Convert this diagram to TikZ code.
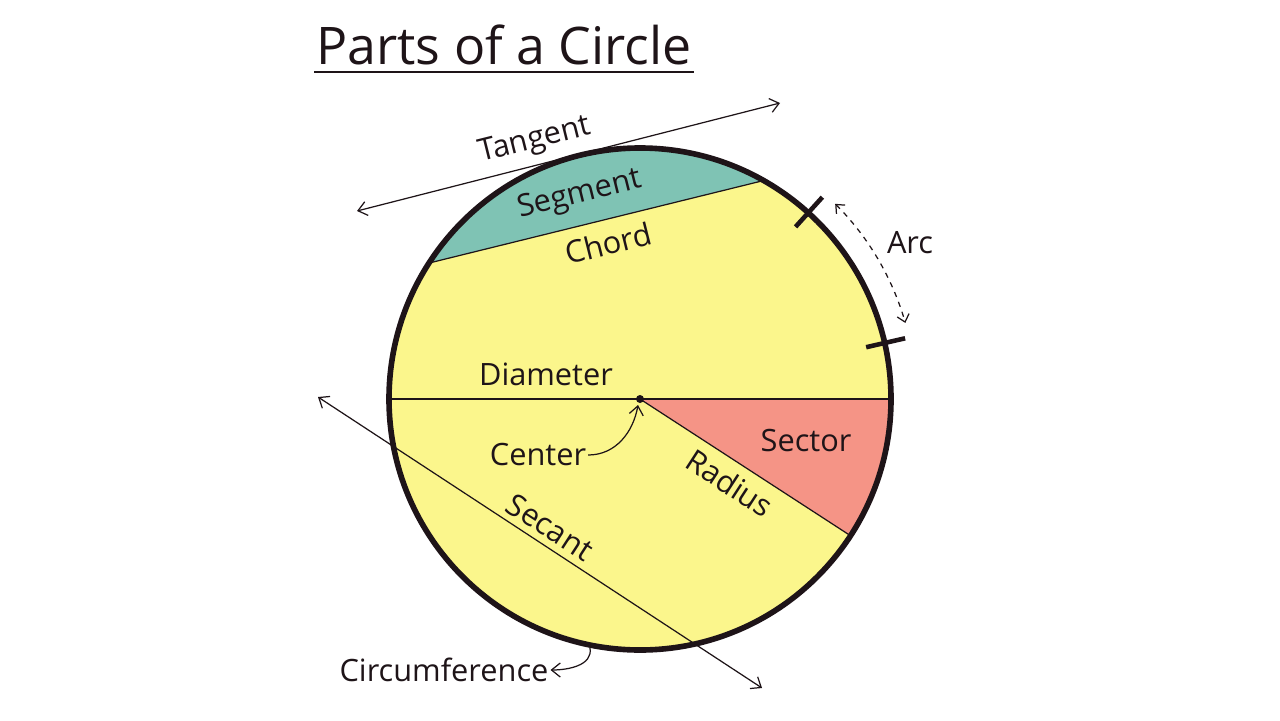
\documentclass[tikz,border=0pt]{standalone}
\usepackage{fontspec}
\setmainfont{Open Sans}
\definecolor{circyellow}{HTML}{FBF68C}
\definecolor{segteal}{HTML}{7FC3B4}
\definecolor{secsalmon}{HTML}{F59486}
\definecolor{inkdark}{HTML}{1E1418}
\usetikzlibrary{arrows.meta, positioning, calc}

\begin{document}
\begin{tikzpicture}[x=0.02cm, y=-0.02cm,
    lbl/.style={font=\fontsize{17.5}{20}\selectfont, text=inkdark, inner sep=1pt},
    line/.style={draw=inkdark, line width=0.7pt},
    tip/.style={-{Straight Barb[length=5pt, width=8pt]}}]
    \useasboundingbox[fill=white] (0,0) rectangle (1280,720);
    % Circle body
    \coordinate (O) at (640,399);
    \fill[circyellow] (O) circle[radius=251];
    % Segment
    \fill[segteal] ($(O)+(60.5:251 and -251)$) arc[start angle=-60.5, end angle=-147.2, radius=251] -- cycle;
    % Sector
    \fill[secsalmon] (O) -- ($(O)+(251,0)$) arc[start angle=0, end angle=33, radius=251] -- cycle;
    % Chord, diameter, radius
    \coordinate (ch1) at ($(O)+(-147.2:251)$);
    \coordinate (ch2) at ($(O)+(-60.5:251)$);
    \draw[line] (ch1) -- (ch2);
    \draw[line] ($(O)+(-251,0)$) -- ($(O)+(251,0)$);
    \coordinate (rad) at ($(O)+(33:251)$);
    \draw[line] (O) -- (rad);
    % Outline
    \draw[inkdark, line width=3.2pt] (O) circle[radius=251];
    \fill[inkdark] (O) circle[radius=4];
    % Arc ticks
    \draw[inkdark, line width=2.6pt] ($(O)+(-47.9:232)$) -- ($(O)+(-47.9:272)$);
    \draw[inkdark, line width=2.6pt] ($(O)+(-12.9:232)$) -- ($(O)+(-12.9:272)$);
    \draw[line, dashed, {Straight Barb[length=4pt, width=7pt]}-{Straight Barb[length=4pt, width=7pt]}]
      ($(O)+(-45:276)$) arc[start angle=-45, end angle=-16, radius=276];
    % Tangent and secant
    \coordinate (tanA) at (357,211);
    \coordinate (tanB) at (780,103);
    \draw[line, {Straight Barb[length=5pt, width=8pt]}-{Straight Barb[length=5pt, width=8pt]}] (tanA) -- (tanB);
    \coordinate (secA) at (318,397);
    \coordinate (secB) at (762,688);
    \draw[line, {Straight Barb[length=5pt, width=8pt]}-{Straight Barb[length=5pt, width=8pt]}] (secA) -- (secB);
    % Labels
    \node[font=\fontsize{29.5}{34}\selectfont, text=inkdark] (title) at (504,45) {Parts of a Circle};
    \draw[inkdark, line width=1.6pt] (314,72) -- (694,72);
    \node[lbl, rotate=14] (tangent) at (535,141) {Tangent};
    \node[lbl, rotate=14] (segment) at (580,195) {Segment};
    \node[lbl, rotate=14] (chord) at (608,243) {Chord};
    \node[lbl] (arc) at (910,243) {Arc};
    \node[lbl] (diameter) at (546,374) {Diameter};
    \node[lbl] (sector) at (806,441) {Sector};
    \node[lbl, rotate=-33] (radius) at (730,483) {Radius};
    \node[lbl] (center) at (538,455) {Center};
    \node[lbl, rotate=-33] (secant) at (550,527) {Secant};
    \node[lbl] (circum) at (444,670) {Circumference};
    % Pointers
    \draw[line, tip] (center.east) to[out=0, in=-100] ($(O)+(-2,6)$);
    \draw[line, tip] (590,648) to[out=-80, in=0] (circum.east);
\end{tikzpicture}
\end{document}
